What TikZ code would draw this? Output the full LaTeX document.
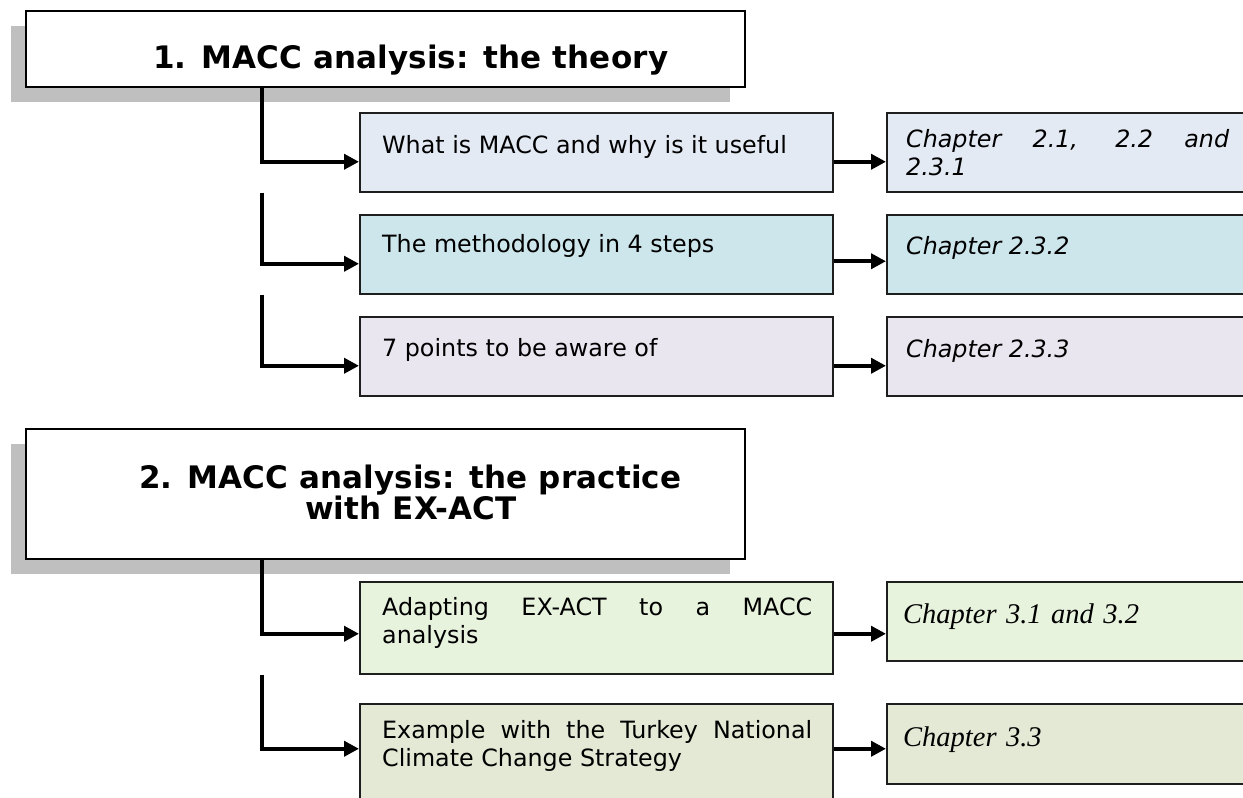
\documentclass[tikz,border=0pt]{standalone}
\usepackage{fontspec}
\setmainfont{DejaVu Sans}
\newfontfamily\headfont[LetterSpace=0.5]{DejaVu Sans}
\newfontfamily\serifit{Liberation Serif}
\usetikzlibrary{arrows.meta,calc,shadows}

\definecolor{shadowgray}{RGB}{191,191,191}
\definecolor{framegray}{RGB}{30,30,30}
\definecolor{fillA}{RGB}{228,234,244}
\definecolor{fillB}{RGB}{205,230,236}
\definecolor{fillC}{RGB}{233,230,240}
\definecolor{fillD}{RGB}{232,243,222}
\definecolor{fillE}{RGB}{227,233,213}

\begin{document}
\begin{tikzpicture}[x=1pt,y=-1pt,
  header/.style={draw=black, line width=1.6pt, fill=white, anchor=north west,
    inner sep=0pt, minimum width=719pt,
    drop shadow={shadow xshift=-15pt, shadow yshift=-15.5pt, fill=shadowgray, opacity=1}},
  headtext/.style={anchor=base west, inner sep=0pt,
    font=\headfont\bfseries\fontsize{31}{31}\selectfont},
  topicbox/.style={draw=framegray, line width=1.5pt, anchor=north west,
    inner sep=0pt, minimum width=473pt},
  refbox/.style={draw=framegray, line width=1.5pt, anchor=north west,
    inner sep=0pt, minimum width=380pt},
  bodytext/.style={anchor=base west, inner sep=0pt, text width=430pt,
    align=justify, font=\fontsize{23.8}{28.5}\selectfont},
  reftext/.style={anchor=base west, inner sep=0pt, text width=323pt,
    align=justify, font=\itshape\fontsize{23.8}{28}\selectfont},
  serifref/.style={anchor=base west, inner sep=0pt, text width=323pt,
    align=left, font=\serifit\itshape\fontsize{28.5}{30}\selectfont},
  conn/.style={line width=4.3pt, -{Triangle[length=15pt,width=15pt]}}]

\useasboundingbox (0,0) rectangle (1243,798);
\clip (0,0) rectangle (1243,798);

% trunk line position shared by all branch connectors
\coordinate (trunk) at (262,0);

% ---- part 1: theory ----
\node[header, minimum height=76pt] (h1) at (25,10) {};
\node[headtext] (h1t) at (153,68) {1. MACC analysis: the theory};

\node[topicbox, fill=fillA, minimum height=79pt] (b1) at (359,112) {};
\node[topicbox, fill=fillB, minimum height=79pt] (b2) at (359,214) {};
\node[topicbox, fill=fillC, minimum height=79pt] (b3) at (359,316) {};

\node[refbox, fill=fillA, minimum height=79pt] (c1) at (886,112) {};
\node[refbox, fill=fillB, minimum height=79pt] (c2) at (886,214) {};
\node[refbox, fill=fillC, minimum height=79pt] (c3) at (886,316) {};

\node[bodytext] (b1t) at (382,153) {What is MACC and why is it useful};
\node[bodytext] (b2t) at (382,252) {The methodology in 4 steps};
\node[bodytext] (b3t) at (382,356) {7 points to be aware of};

\node[reftext] (c1t) at (906,147) {Chapter 2.1, 2.2 and\linebreak 2.3.1};
\node[reftext] (c2t) at (906,254) {Chapter 2.3.2};
\node[reftext] (c3t) at (906,357) {Chapter 2.3.3};

\draw[conn] (h1.south -| trunk) |- ([yshift=-9.5pt]b1.west);
\draw[conn] (b1.south -| trunk) |- ([yshift=-9.5pt]b2.west);
\draw[conn] (b2.south -| trunk) |- ([yshift=-9.5pt]b3.west);

\coordinate (r1) at ([yshift=-9.5pt]b1.east);
\coordinate (r2) at ([yshift=-7pt]b2.east);
\coordinate (r3) at ([yshift=-9.5pt]b3.east);
\draw[conn] (r1) -- (r1 -| c1.west);
\draw[conn] (r2) -- (r2 -| c2.west);
\draw[conn] (r3) -- (r3 -| c3.west);

% ---- part 2: practice ----
\node[header, minimum height=130pt] (h2) at (25,428) {};
\node[headtext] (h2t) at (139,488) {2. MACC analysis: the practice};
\node[headtext] (h2u) at (305,519) {with EX-ACT};

\node[topicbox, fill=fillD, minimum height=92pt] (b4) at (359,581) {};
\node[topicbox, fill=fillE, minimum height=100pt] (b5) at (359,703) {};

\node[refbox, fill=fillD, minimum height=79pt] (c4) at (886,581) {};
\node[refbox, fill=fillE, minimum height=80pt] (c5) at (886,703) {};

\node[bodytext] (b4t) at (382,615) {Adapting EX-ACT to a MACC\linebreak analysis};
\node[bodytext] (b5t) at (382,738) {Example with the Turkey National\linebreak Climate Change Strategy};

\node[serifref] (c4t) at (903,623) {Chapter 3.1 and 3.2};
\node[serifref] (c5t) at (903,746) {Chapter 3.3};

\draw[conn] (h2.south -| trunk) |- ([yshift=-6pt]b4.west);
\draw[conn] (b4.south -| trunk) |- ([yshift=5pt]b5.west);

\coordinate (r4) at ([yshift=-6pt]b4.east);
\coordinate (r5) at ([yshift=5pt]b5.east);
\draw[conn] (r4) -- (r4 -| c4.west);
\draw[conn] (r5) -- (r5 -| c5.west);

\end{tikzpicture}
\end{document}
